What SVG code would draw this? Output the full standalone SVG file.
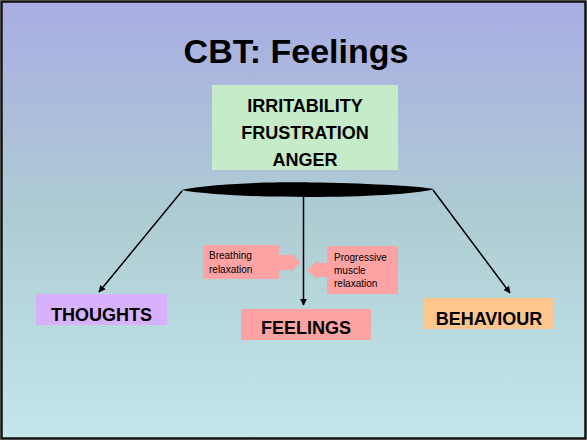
<svg xmlns="http://www.w3.org/2000/svg" width="587" height="440" viewBox="0 0 587 440">
<defs>
<linearGradient id="bg" x1="0" y1="0" x2="0" y2="1">
<stop offset="0" stop-color="#a9ade4"/>
<stop offset="0.5" stop-color="#aecdd3"/>
<stop offset="1" stop-color="#c3e7eb"/>
</linearGradient>
<marker id="ah" viewBox="0 0 10 10" refX="9" refY="5" markerWidth="7" markerHeight="7" orient="auto" markerUnits="userSpaceOnUse">
<path d="M0,0 L10,5 L0,10 Z" fill="#000"/>
</marker>
<radialGradient id="disc" cx="0.5" cy="0.5" r="0.5">
<stop offset="0" stop-color="#000"/>
<stop offset="1" stop-color="#000"/>
</radialGradient>
</defs>
<style>
.t{font-family:"Liberation Sans",Arial,sans-serif;font-weight:bold;fill:#000;text-anchor:middle}
.s{font-family:"Liberation Sans",Arial,sans-serif;font-size:10px;fill:#000}
.ln{stroke:#000;stroke-width:1.5;fill:none}
</style>
<rect x="1.5" y="1.5" width="584" height="437" fill="url(#bg)" stroke="#111" stroke-width="2.5"/>
<text class="t" x="296" y="63" font-size="34">CBT: Feelings</text>
<g id="source">
<rect x="212" y="85" width="186" height="85" fill="#c6ebc8"/>
<text class="t" x="305" y="112" font-size="18">IRRITABILITY</text>
<text class="t" x="305" y="139" font-size="18">FRUSTRATION</text>
<text class="t" x="305" y="166" font-size="18">ANGER</text>
</g>
<g id="disc-node">
<path d="M181,190 C220,182 290,182 310,182.5 C360,183 420,186 434,189 C420,194 360,197 310,197 C260,197 210,195 181,190 Z" fill="#000"/>
</g>
<g id="connectors">
<line class="ln" x1="182" y1="191" x2="99" y2="292" marker-end="url(#ah)"/>
<line class="ln" x1="433" y1="190" x2="510" y2="293" marker-end="url(#ah)"/>
<line class="ln" x1="303.5" y1="192" x2="303.5" y2="305" marker-end="url(#ah)"/>
</g>
<g id="thoughts">
<rect x="36" y="294" width="131" height="31" fill="#d7b1fb"/>
<text class="t" x="101.5" y="321" font-size="18">THOUGHTS</text>
</g>
<g id="behaviour">
<rect x="424" y="298" width="130" height="31" fill="#fdc68d"/>
<text class="t" x="489" y="325" font-size="18">BEHAVIOUR</text>
</g>
<g id="feelings">
<rect x="241" y="309" width="130" height="31" fill="#fea3a3"/>
<text class="t" x="306" y="334" font-size="18">FEELINGS</text>
</g>
<g id="breathing">
<rect x="203" y="245" width="76" height="34" fill="#fea3a3"/>
<path d="M278,255 L291,255 L291,253 L300.5,262.5 L291,272 L291,270 L278,270 Z" fill="#fea3a3"/>
<text class="s" x="209" y="259">Breathing</text>
<text class="s" x="209" y="273">relaxation</text>
</g>
<g id="progressive">
<rect x="327" y="246" width="71" height="48" fill="#fea3a3"/>
<path d="M328,263 L318,263 L318,260.5 L307,270 L318,279.5 L318,277 L328,277 Z" fill="#fea3a3"/>
<text class="s" x="334" y="261">Progressive</text>
<text class="s" x="334" y="274">muscle</text>
<text class="s" x="334" y="287">relaxation</text>
</g>
</svg>
